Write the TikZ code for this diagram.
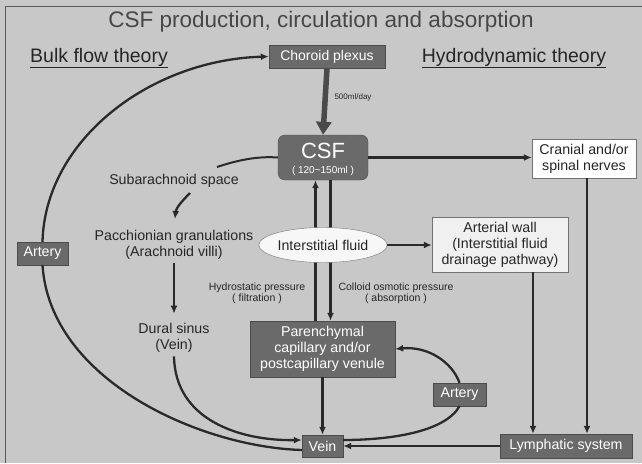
\documentclass[tikz,border=0pt]{standalone}
\usepackage{fontspec}
\setmainfont{Liberation Sans}
\usetikzlibrary{arrows.meta,shapes.geometric}
\definecolor{bgc}{RGB}{200,200,200}
\definecolor{dboxc}{RGB}{106,106,106}
\definecolor{linec}{RGB}{42,42,42}
\definecolor{txtc}{RGB}{38,38,38}
\tikzset{
  fsT/.style={font=\fontsize{22.5}{26}\selectfont},
  fsH/.style={font=\fontsize{19.5}{22}\selectfont},
  fsM/.style={font=\fontsize{14.2}{16}\selectfont},
  fsS/.style={font=\fontsize{14}{16}\selectfont},
  fsXS/.style={font=\fontsize{10.5}{11.5}\selectfont},
  fsXXS/.style={font=\fontsize{8}{9}\selectfont},
  lbl/.style={inner sep=0pt, align=center, text=txtc},
  dbox/.style={draw=black!70, fill=dboxc, text=white, inner sep=0pt, align=center},
  lbox/.style={draw=black!55, inner sep=0pt, align=center, text=txtc},
  arr/.style={draw=linec, line width=2.3pt, -{Latex[length=8pt,width=7pt]}},
  plain/.style={draw=linec, line width=2.3pt},
  thickarr/.style={draw=linec!85, line width=5.5pt, -{Triangle[length=13pt,width=15pt]}}
}
\begin{document}
\begin{tikzpicture}[x=1pt,y=-1pt]
\useasboundingbox (0,0) rectangle (642,463);
\fill[bgc] (0,0) rectangle (642,463);
\draw[black!65, line width=0.8pt] (5,463) -- (5,6) -- (642,6);

% titles
\node[lbl, fsT, text=black!72] (title) at (321,22) {CSF production, circulation and absorption};
\node[lbl, fsH] (bulk) at (99,58) {\underline{Bulk flow theory}};
\node[lbl, fsH] (hydro) at (514,58) {\underline{Hydrodynamic theory}};

% boxes
\node[dbox, fsS, minimum width=116, minimum height=23] (choroid) at (327,56.5) {Choroid plexus};
\node[dbox, rounded corners=7pt, minimum width=90, minimum height=45] (csf) at (323,157.5) {};
\node[lbl, text=white, font=\fontsize{22}{24}\selectfont] (csftxt) at (323,151) {CSF};
\node[lbl, text=white, font=\fontsize{10}{11}\selectfont] (csfvol) at (323,170.5) {( 120\textasciitilde150ml )};
\node[lbl, fsXXS] (rate) at (353,97) {500ml/day};

\node[lbox, fill=white, fsM, minimum width=104, minimum height=39] (cranial) at (584,158.5) {Cranial and/or\\spinal nerves};
\node[lbox, fill=gray!12, fsM, minimum width=136, minimum height=55] (artwall) at (500,244.5) {Arterial wall\\(Interstitial fluid\\drainage pathway)};

\node[lbl, fsM] (sub) at (174,181) {Subarachnoid space};
\node[lbl, fsM] (pacch) at (174,245) {Pacchionian granulations\\(Arachnoid villi)};
\node[lbl, fsM] (dural) at (174,337.5) {Dural sinus\\(Vein)};

\node[dbox, fsM, minimum width=145, minimum height=56] (paren) at (322.5,349) {Parenchymal\\capillary and/or\\postcapillary venule};
\node[dbox, fsM, minimum width=41, minimum height=22] (vein) at (322.5,446) {Vein};
\node[dbox, fsM, minimum width=53, minimum height=23] (arteryR) at (459.5,394.5) {Artery};
\node[dbox, fsM, minimum width=51, minimum height=23] (arteryL) at (42.5,253.5) {Artery};
\node[dbox, fsM, minimum width=132, minimum height=24] (lymph) at (566,446) {Lymphatic system};

\node[lbl, fsXS] (hydrolbl) at (257,293.5) {Hydrostatic pressure\\( filtration )};
\node[lbl, fsXS] (colloid) at (396,293.5) {Colloid osmotic pressure\\( absorption )};

% vertical exchange lines (behind ellipse)
\draw[arr] ([xshift=-7pt]paren.north) -- ([xshift=-7pt]paren.north |- csf.south);
\draw[arr] ([xshift=8pt]paren.north |- csf.south) -- ([xshift=8pt]paren.north);

\node[ellipse, draw=black!55, fill=gray!6, fsM, text=txtc, minimum width=117, minimum height=35, inner sep=0pt] (inter) at (323,245) {Interstitial fluid};

% connectors
\draw[thickarr] (choroid.south) -- (csf.north);
\draw[arr] (csf.east) -- (csf.east -| cranial.west);
\coordinate (subtail) at (217,167);
\draw[draw=linec, line width=2pt] (csf.west) .. controls (258,156) and (238,160) .. (subtail);
\coordinate (s1) at (190,193);
\coordinate (s2) at (175,219);
\draw[arr] (s1) .. controls (182,201) and (176,208) .. (s2);
\draw[arr, shorten <=3pt, shorten >=9pt] (pacch.south) -- (dural.north);
\draw[arr] ([yshift=-4pt]dural.south) .. controls (175,420) and (240,441) .. ([yshift=6pt]vein.west);
\draw[plain] ([yshift=-4pt]vein.west) .. controls (200,447) and (50,380) .. (arteryL.south);
\draw[arr] (arteryL.north) .. controls (45,140) and (150,60) .. (choroid.west);
\draw[arr] (paren.south) -- (vein.north);
\draw[arr] (arteryR.north) .. controls (452,362) and (428,346) .. (paren.east);
\draw[plain] (arteryR.south) .. controls (445,432) and (390,440) .. ([yshift=6pt]vein.east);
\draw[arr] (lymph.west) -- (lymph.west -| vein.east);
\draw[arr] ([xshift=3pt]cranial.south) -- ([xshift=3pt]cranial.south |- lymph.north);
\draw[arr] ([xshift=33pt]artwall.south) -- ([xshift=33pt]artwall.south |- lymph.north);
\draw[arr] (inter.east) -- (inter.east -| artwall.west);
\end{tikzpicture}
\end{document}
